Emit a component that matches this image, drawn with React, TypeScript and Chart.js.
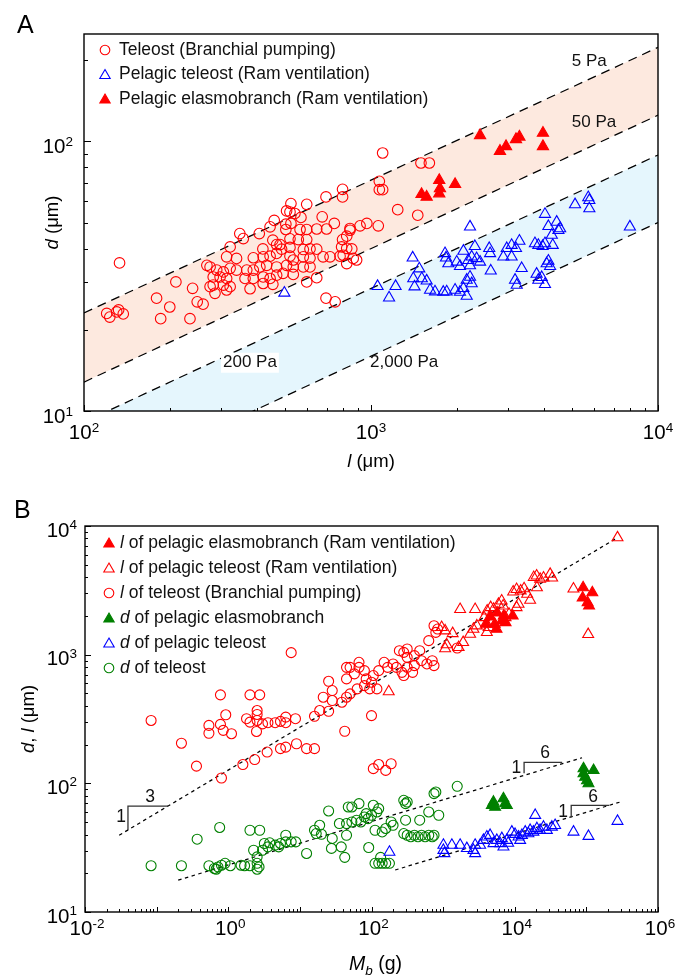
import React, { useEffect, useRef } from 'react';
import { Chart, registerables } from 'chart.js';
Chart.register(...registerables);

const FONT = '"Liberation Sans", Arial, Helvetica, sans-serif';
const RED = '#ff0000';
const BLUE = '#0000ff';
const GREEN = '#008000';
const PINK = 'rgb(253,233,223)';
const SKY = 'rgb(229,246,253)';

// ---------------- Panel A data: [l (um), d (um)] ----------------
const teleostA: [number, number][] = [
  [133, 35.4], [1098, 90.5], [1069, 71.1], [1069, 66.2], [1098, 66.2], [796, 66.4], [796, 62.2], [697, 62.2], [597, 58.4], [526, 58.8],
  [508, 55.2], [522, 54.7], [543, 54.0], [570, 52.2], [676, 52.5], [745, 49.6], [460, 50.9], [445, 48.2], [505, 49.3], [526, 49.6],
  [505, 47.1], [566, 47.1], [597, 47.1], [647, 47.3], [700, 47.3], [845, 47.5], [916, 48.6], [967, 49.6], [1060, 48.6], [349, 45.5],
  [359, 43.6], [408, 45.5], [323, 40.6], [420, 39.9], [455, 43.0], [469, 41.4], [482, 41.4], [522, 43.5], [558, 43.2], [597, 43.2],
  [488, 39.8], [522, 40.4], [581, 39.7], [613, 39.9], [647, 39.8], [796, 43.2], [823, 44.5], [845, 46.8], [790, 40.6], [823, 40.1],
  [857, 39.9], [800, 37.8], [681, 37.3], [720, 37.3], [780, 37.5], [867, 36.8], [891, 36.3], [823, 35.2], [314, 37.3], [340, 36.8],
  [389, 37.0], [421, 37.3], [445, 37.5], [469, 38.4], [522, 37.5], [536, 36.3], [581, 37.3], [613, 36.9], [268, 34.7], [275, 34.2],
  [290, 33.3], [306, 32.8], [323, 33.8], [340, 33.3], [369, 33.3], [389, 33.3], [410, 34.2], [433, 34.7], [469, 34.2], [508, 34.7],
  [536, 34.2], [581, 34.2], [613, 34.2], [282, 31.4], [298, 31.4], [314, 31.0], [282, 29.3], [306, 29.3], [323, 28.9], [275, 28.9],
  [364, 31.0], [389, 31.0], [421, 31.4], [445, 31.0], [469, 31.9], [494, 32.4], [536, 32.1], [421, 29.7], [455, 29.5], [379, 28.4],
  [597, 30.1], [647, 31.2], [286, 27.3], [314, 28.1], [239, 28.5], [209, 30.1], [179, 26.2], [199, 24.3], [248, 25.4], [260, 24.9],
  [697, 26.2], [750, 25.4], [120, 23.0], [123, 22.3], [130, 23.3], [137, 22.9], [132, 23.7], [185, 22.0], [234, 22.0], [1493, 83.1],
  [1597, 83.1], [1239, 55.8], [1455, 53.2],
];

const pelagicTeleostA: [number, number][] = [
  [499, 27.4], [1054, 29.0], [1156, 26.3], [1218, 29.0], [1397, 37.0], [1473, 33.7], [1404, 31.0], [1503, 31.0], [1563, 30.4], [1418, 28.9],
  [1606, 28.1], [1671, 27.7], [1786, 27.6], [1835, 27.7], [1963, 28.1], [2042, 27.6], [2099, 28.5], [2155, 26.7], [2155, 30.6], [2213, 31.4],
  [2243, 29.7], [1811, 38.4], [1825, 37.0], [1860, 35.2], [1989, 35.7], [2042, 34.4], [2099, 39.2], [2183, 36.2], [2213, 34.6], [2243, 37.3],
  [2301, 40.8], [2333, 36.8], [2399, 35.7], [2582, 40.1], [2600, 38.4], [2614, 33.1], [2891, 37.3], [2972, 40.1], [3090, 41.2], [3090, 37.3],
  [3200, 40.1], [3289, 42.7], [3350, 33.8], [3176, 30.6], [3220, 29.3], [3726, 41.8], [3828, 41.2], [3963, 40.8], [4038, 41.8], [4298, 41.2],
  [3776, 32.2], [3828, 30.6], [3934, 31.3], [4038, 29.5], [4093, 35.2], [4150, 36.0], [4207, 34.4], [4038, 53.7], [4150, 48.4], [4266, 44.9],
  [4436, 50.2], [4498, 46.8], [4560, 47.5], [5140, 58.3], [5715, 61.9], [5765, 60.4], [5765, 56.3], [7980, 48.2], [2213, 48.2],
];

const elasmoA: [number, number][] = [
  [2399, 105.2], [2814, 92.0], [2954, 95.8], [3289, 103.9], [3200, 101.7], [3973, 107.3], [3973, 95.8],
  [1500, 63.6], [1563, 62.2], [1729, 71.7], [1739, 66.8], [1729, 64.0], [1963, 69.3],
];

// iso-stress guide lines: d at l = 100 and l = 10^4
const guideL = [100, 10000];
const pa5 = [23.1, 223];
const pa50 = [12.8, 125];
const pa200 = [9.1, 89];
const pa2000 = [5.1, 50];

// ---------------- Panel B data: [M_b (g), value (um)] ----------------
const lTeleostB: [number, number][] = [
  [0.0837, 308], [0.222, 205], [0.36, 136], [0.804, 110], [0.537, 282], [0.537, 245], [0.778, 287], [0.851, 258], [1.11, 243], [0.778, 487],
  [0.923, 341], [2.01, 487], [2.75, 487], [1.8, 318], [2.01, 299], [2.53, 308], [2.53, 343], [2.53, 368], [2.48, 253], [3.01, 290],
  [3.58, 296], [4.51, 296], [5.36, 303], [6.35, 327], [6.35, 296], [8.68, 318], [1.6, 140], [2.34, 153], [3.49, 175], [5.36, 186],
  [6.35, 191], [8.97, 203], [12.4, 186], [16.0, 186], [7.56, 1037], [16.0, 332], [18.9, 368], [25.2, 363], [21.2, 467], [28.3, 440],
  [25.2, 621], [28.3, 526], [38.6, 427], [42.3, 254], [44.8, 648], [44.8, 797], [50.2, 797], [57.7, 709], [66.9, 797], [66.9, 872],
  [79.6, 752], [44.8, 467], [50.2, 496], [63.1, 542], [79.6, 575], [94.4, 542], [100, 610], [119, 542], [84.3, 648], [106, 688],
  [126, 752], [150, 872], [168, 797], [200, 847], [100, 336], [106, 130], [126, 140], [158, 126], [188, 142], [245, 1074],
  [282, 1042], [315, 1107], [315, 953], [397, 983], [471, 1074], [223, 797], [266, 729], [315, 797], [397, 822], [499, 898],
  [594, 847], [705, 898], [746, 822], [282, 688], [375, 729], [630, 1285], [746, 1678], [838, 1581], [791, 1489], [1574, 1127],
];

const lPelagicTeleostB: [number, number][] = [
  [174, 517], [953, 1629], [1067, 1535], [1358, 1462], [1067, 1114], [1119, 1196], [1646, 1140], [1903, 1245], [1727, 2252], [2798, 2252],
  [2383, 1446], [2649, 1582], [2958, 1678], [3738, 1946], [4119, 2193], [4606, 2328], [5075, 2261], [4076, 1489], [4321, 1629], [5922, 2472],
  [6566, 2622], [6887, 2398], [7445, 1946], [8318, 2068], [10600, 2328], [11300, 2472], [9500, 3077], [10600, 3220], [12100, 3133], [13500, 3265],
  [14900, 2956], [16400, 2655], [18400, 3990], [20200, 4096], [22600, 3863], [25200, 3953], [31200, 4224], [33300, 3953], [20400, 3325], [66000, 3249],
  [106000, 1437], [272000, 8118],
];

const lElasmoB: [number, number][] = [
  [3947, 1730], [4529, 1971], [5260, 1730], [5570, 1581], [6624, 1835], [7021, 2005], [7447, 1780], [9352, 2005], [5680, 2117],
  [90000, 3325], [121000, 3040], [88700, 2766], [104000, 2543], [109000, 2398],
];

const dElasmoB: [number, number][] = [
  [4786, 67.5], [5044, 71.6], [5321, 65.5], [6950, 76.1], [7345, 69.6], [7762, 67.5],
  [91200, 130], [126000, 126], [96200, 112], [102000, 105], [107000, 99.5], [91200, 119],
];

const dPelagicTeleostB: [number, number][] = [
  [178, 29.2], [1009, 33.1], [1009, 30.2], [1042, 28.5], [1324, 33.1], [1728, 33.1], [2143, 31.2], [2650, 30.2], [2799, 33.1], [2799, 28.5],
  [3655, 36.1], [4076, 38.4], [4529, 39.5], [5044, 34.1], [5623, 36.1], [6253, 34.1], [6600, 37.3], [6953, 32.1], [7762, 36.1], [9106, 41.9],
  [10100, 40.2], [11300, 38.4], [12600, 39.5], [14000, 41.9], [15500, 40.7], [16400, 43.2], [18200, 41.9], [20400, 44.6], [22600, 43.2], [25200, 45.8],
  [28100, 43.2], [33000, 45.8], [36600, 47.2], [19300, 56.5], [66100, 41.9], [107000, 38.8], [272000, 50.8], [3288, 33.1], [8090, 34.3], [11900, 36.1],
];

const dTeleostB: [number, number][] = [
  [0.0837, 22.9], [0.222, 22.9], [0.368, 36.8], [0.759, 45.4], [0.537, 22.9], [0.64, 21.8], [0.718, 22.4], [0.804, 23.1], [0.902, 23.9], [1.07, 22.9],
  [0.678, 21.5], [1.51, 23.1], [1.69, 22.9], [2.01, 22.9], [2.53, 23.9], [2.69, 22.4], [2.53, 21.5], [2.01, 43.2], [2.75, 43.2], [2.26, 30.2],
  [2.53, 26.8], [3.01, 30.2], [3.19, 34.1], [3.58, 32.1], [3.79, 34.5], [4.51, 33.1], [5.06, 32.1], [5.36, 34.1], [6.35, 39.5], [6.35, 35.1],
  [7.56, 35.1], [8.77, 35.1], [12.4, 28.5], [16.0, 43.2], [16.9, 40.7], [18.9, 47.2], [20.0, 40.2], [25.2, 61.0], [27.6, 31.2], [28.3, 37.3],
  [35.6, 48.7], [37.8, 32.1], [42.3, 26.6], [44.8, 39.5], [47.4, 65.5], [53.2, 65.5], [44.8, 48.7], [53.2, 50.1], [61.8, 51.7], [66.9, 69.6],
  [70.9, 50.1], [79.6, 54.8], [84.3, 58.2], [89.4, 53.2], [91.4, 31.7], [100, 56.5], [106, 67.5], [112, 43.2], [119, 59.9], [126, 63.6],
  [141, 41.9], [158, 44.6], [112, 23.9], [126, 23.9], [141, 23.9], [158, 23.9], [178, 23.9], [134, 26.6], [188, 50.1], [200, 47.2],
  [282, 73.8], [299, 69.6], [315, 71.6], [299, 51.7], [471, 51.7], [630, 59.9], [869, 56.5], [282, 40.7], [315, 39.5], [354, 38.4],
  [397, 39.5], [446, 38.4], [499, 39.5], [561, 38.4], [630, 39.5], [705, 38.4], [746, 39.5], [746, 83.2], [791, 85.6], [1574, 94.8],
];

// scaling guide lines (two end points each)
const fitL_M = [0.03, 270000];
const fitL_v = [39.5, 8100];
const fitDt_M = [0.2, 87000];
const fitDt_v = [17.7, 158];
const fitDp_M = [214, 290000];
const fitDp_v = [21.2, 71.3];

// slope triangles
const tri1_M = [0.0398, 0.0398, 0.144];
const tri1_v = [43.3, 66.4, 66.4];
const tri2_M = [13500, 13500, 45900];
const tri2_v = [119.7, 145.5, 145.5];
const tri3_M = [61400, 61400, 208000];
const tri3_v = [54.5, 67.5, 67.5];
const slopeLabels = [
  { t: '3', M: 0.081, v: 77.8 }, { t: '1', M: 0.0319, v: 54.4 },
  { t: '6', M: 26600, v: 171 }, { t: '1', M: 10500, v: 130.6 },
  { t: '6', M: 124000, v: 77.8 }, { t: '1', M: 47400, v: 59.6 },
];

const paLabels = [
  { t: '5 Pa', l: 5010, d: 198, bg: false },
  { t: '50 Pa', l: 5010, d: 117.6, bg: false },
  { t: '200 Pa', l: 305, d: 15.1, bg: true },
  { t: '2,000 Pa', l: 993, d: 15.1, bg: false },
];

// ---------------- helpers ----------------
const pts = (arr: [number, number][]) => arr.map(([x, y]) => ({ x, y }));
const pairs = (xs: number[], ys: number[]) => xs.map((x, i) => ({ x, y: ys[i] }));

type Part = { t: string; size: number; italic?: boolean; dy?: number };
const fontOf = (p: Part) => `${p.italic ? 'italic ' : ''}${p.size}px ${FONT}`;

function drawRich(ctx: CanvasRenderingContext2D, parts: Part[], x: number, y: number, align: string) {
  const widths = parts.map((p) => { ctx.font = fontOf(p); return ctx.measureText(p.t).width; });
  const total = widths.reduce((s, w) => s + w, 0);
  let cx = align === 'center' ? x - total / 2 : align === 'right' ? x - total : x;
  ctx.textAlign = 'left';
  parts.forEach((p, i) => {
    ctx.font = fontOf(p);
    ctx.fillText(p.t, cx, y + (p.dy || 0));
    cx += widths[i];
  });
}

function pow10(ctx: CanvasRenderingContext2D, exp: string, x: number, y: number, align: string) {
  ctx.textBaseline = 'alphabetic';
  drawRich(ctx, [{ t: '10', size: 20.5 }, { t: exp, size: 13.5, dy: -7.5 }], x, y, align);
}

function logTicks(ctx: CanvasRenderingContext2D, scale: any, area: any, axis: string, lo: number, hi: number, major: number, minor: number) {
  for (let e = lo; e <= hi; e++) {
    for (let m = 1; m <= 9; m++) {
      const v = m * Math.pow(10, e);
      if (v < scale.min * 0.999 || v > scale.max * 1.001) continue;
      const p = Math.round(scale.getPixelForValue(v)) + 0.5;
      const len = m === 1 ? major : minor;
      ctx.beginPath();
      if (axis === 'x') { ctx.moveTo(p, area.bottom); ctx.lineTo(p, area.bottom - len); }
      else { ctx.moveTo(area.left, p); ctx.lineTo(area.left + len, p); }
      ctx.stroke();
    }
  }
}

function marker(ctx: CanvasRenderingContext2D, shape: string, filled: boolean, color: string, x: number, y: number, r: number) {
  ctx.beginPath();
  if (shape === 'circle') ctx.arc(x, y, r, 0, Math.PI * 2);
  else {
    ctx.moveTo(x, y - r);
    ctx.lineTo(x + 0.866 * r, y + 0.5 * r);
    ctx.lineTo(x - 0.866 * r, y + 0.5 * r);
    ctx.closePath();
  }
  ctx.lineWidth = 1.1;
  if (filled) { ctx.fillStyle = color; ctx.fill(); }
  ctx.strokeStyle = color;
  ctx.stroke();
}

function frame(ctx: CanvasRenderingContext2D, a: any) {
  ctx.strokeStyle = '#000';
  ctx.lineWidth = 1.4;
  ctx.strokeRect(a.left, a.top, a.right - a.left, a.bottom - a.top);
}

// ---------------- plugins ----------------
const legendA = [
  { shape: 'circle', filled: false, color: RED, text: 'Teleost (Branchial pumping)' },
  { shape: 'triangle', filled: false, color: BLUE, text: 'Pelagic teleost (Ram ventilation)' },
  { shape: 'triangle', filled: true, color: RED, text: 'Pelagic elasmobranch (Ram ventilation)' },
];

const panelAPlugin = {
  id: 'panelADeco',
  afterDraw(chart: any) {
    const { ctx, chartArea: a, scales } = chart;
    const xs = scales.x, ys = scales.y;
    ctx.save();
    ctx.fillStyle = '#111';
    ctx.textBaseline = 'middle';
    paLabels.forEach((p) => {
      const x = xs.getPixelForValue(p.l), y = ys.getPixelForValue(p.d);
      ctx.font = `17px ${FONT}`;
      if (p.bg) {
        const w = ctx.measureText(p.t).width;
        ctx.fillStyle = '#fff';
        ctx.fillRect(x - 2, y - 10, w + 4, 20);
        ctx.fillStyle = '#111';
      }
      ctx.textAlign = 'left';
      ctx.fillText(p.t, x, y);
    });
    frame(ctx, a);
    ctx.lineWidth = 1;
    logTicks(ctx, xs, a, 'x', 2, 4, 6, 3);
    logTicks(ctx, ys, a, 'y', 1, 2, 7, 4);
    ctx.fillStyle = '#000';
    [[100, '2'], [1000, '3'], [10000, '4']].forEach(([v, e]: any) => pow10(ctx, e, xs.getPixelForValue(v), a.bottom + 28, 'center'));
    [[10, '1'], [100, '2']].forEach(([v, e]: any) => pow10(ctx, e, a.left - 11, ys.getPixelForValue(v) + 12, 'right'));
    ctx.textBaseline = 'alphabetic';
    drawRich(ctx, [{ t: 'l', size: 18.5, italic: true }, { t: ' (μm)', size: 18.5 }], (a.left + a.right) / 2, a.bottom + 56, 'center');
    ctx.save();
    ctx.translate(58, (a.top + a.bottom) / 2);
    ctx.rotate(-Math.PI / 2);
    drawRich(ctx, [{ t: 'd', size: 18.5, italic: true }, { t: ' (μm)', size: 18.5 }], 0, 0, 'center');
    ctx.restore();
    ctx.font = `25px ${FONT}`;
    ctx.textAlign = 'left';
    ctx.fillText('A', 17, 33);
    ctx.textBaseline = 'middle';
    legendA.forEach((it, i) => {
      const y = 50 + i * 24.5;
      marker(ctx, it.shape, it.filled, it.color, 105, it.shape === 'circle' ? y : y + 1, it.shape === 'circle' ? 4.8 : 6);
      ctx.fillStyle = '#111';
      ctx.font = `17.5px ${FONT}`;
      ctx.textAlign = 'left';
      ctx.fillText(it.text, 119, y);
    });
    ctx.restore();
  },
};

const legendB = [
  { shape: 'triangle', filled: true, color: RED, it: 'l', rest: ' of pelagic elasmobranch (Ram ventilation)' },
  { shape: 'triangle', filled: false, color: RED, it: 'l', rest: ' of pelagic teleost (Ram ventilation)' },
  { shape: 'circle', filled: false, color: RED, it: 'l', rest: ' of teleost (Branchial pumping)' },
  { shape: 'triangle', filled: true, color: GREEN, it: 'd', rest: ' of pelagic elasmobranch' },
  { shape: 'triangle', filled: false, color: BLUE, it: 'd', rest: ' of pelagic teleost' },
  { shape: 'circle', filled: false, color: GREEN, it: 'd', rest: ' of teleost' },
];

const panelBPlugin = {
  id: 'panelBDeco',
  afterDraw(chart: any) {
    const { ctx, chartArea: a, scales } = chart;
    const xs = scales.x, ys = scales.y;
    ctx.save();
    ctx.strokeStyle = '#333';
    ctx.lineWidth = 1.3;
    [[tri1_M, tri1_v], [tri2_M, tri2_v], [tri3_M, tri3_v]].forEach(([ms, vs]) => {
      ctx.beginPath();
      ms.forEach((m, i) => {
        const x = xs.getPixelForValue(m), y = ys.getPixelForValue(vs[i]);
        if (i === 0) ctx.moveTo(x, y); else ctx.lineTo(x, y);
      });
      ctx.stroke();
    });
    ctx.fillStyle = '#111';
    ctx.textAlign = 'center';
    ctx.textBaseline = 'middle';
    ctx.font = `17.5px ${FONT}`;
    slopeLabels.forEach((s) => ctx.fillText(s.t, xs.getPixelForValue(s.M), ys.getPixelForValue(s.v)));
    frame(ctx, a);
    ctx.lineWidth = 1;
    logTicks(ctx, xs, a, 'x', -2, 6, 5, 3);
    logTicks(ctx, ys, a, 'y', 1, 4, 6, 3);
    ctx.fillStyle = '#000';
    [[0.01, '-2'], [1, '0'], [100, '2'], [10000, '4'], [1000000, '6']].forEach(([v, e]: any) => pow10(ctx, e, xs.getPixelForValue(v) + 2, a.bottom + 23, 'center'));
    [[10, '1'], [100, '2'], [1000, '3'], [10000, '4']].forEach(([v, e]: any) => pow10(ctx, e, a.left - 8, ys.getPixelForValue(v) + 10.5, 'right'));
    ctx.textBaseline = 'alphabetic';
    drawRich(ctx, [{ t: 'M', size: 19.5, italic: true }, { t: 'b', size: 13.5, italic: true, dy: 5 }, { t: ' (g)', size: 19.5 }], (a.left + a.right) / 2 + 4, a.bottom + 58, 'center');
    ctx.save();
    ctx.translate(34, (a.top + a.bottom) / 2);
    ctx.rotate(-Math.PI / 2);
    drawRich(ctx, [{ t: 'd', size: 18.5, italic: true }, { t: ', ', size: 18.5 }, { t: 'l', size: 18.5, italic: true }, { t: ' (μm)', size: 18.5 }], 0, 0, 'center');
    ctx.restore();
    ctx.font = `25px ${FONT}`;
    ctx.textAlign = 'left';
    ctx.fillText('B', 14, 29);
    ctx.textBaseline = 'middle';
    legendB.forEach((it, i) => {
      const y = 54 + i * 25;
      marker(ctx, it.shape, it.filled, it.color, 109, it.shape === 'circle' ? y : y + 1, it.shape === 'circle' ? 4.8 : 6);
      ctx.fillStyle = '#111';
      drawRich(ctx, [{ t: it.it, size: 17.5, italic: true }, { t: it.rest, size: 17.5 }], 120, y, 'left');
    });
    ctx.restore();
  },
};

const scatterDs = (data: [number, number][], shape: string, color: string, filled: boolean, r: number) => ({
  type: 'scatter',
  data: pts(data),
  pointStyle: shape,
  pointRadius: r,
  pointHoverRadius: r,
  borderColor: color,
  backgroundColor: filled ? color : 'rgba(0,0,0,0)',
  pointBorderWidth: 1.1,
  borderWidth: 1.1,
  order: 1,
});

const guideDs = (data: any[], dash: number[], fill: any, bg: string) => ({
  type: 'line',
  data,
  borderColor: '#000',
  borderWidth: 1.25,
  borderDash: dash,
  pointRadius: 0,
  tension: 0,
  fill,
  backgroundColor: bg,
  order: 10,
});

const baseOptions = (xMin: number, xMax: number, yMin: number, yMax: number, padding: any) => ({
  responsive: false,
  animation: false,
  events: [],
  layout: { padding },
  plugins: { legend: { display: false }, tooltip: { enabled: false }, filler: { drawTime: 'beforeDatasetsDraw' } },
  scales: {
    x: { type: 'logarithmic', min: xMin, max: xMax, display: false },
    y: { type: 'logarithmic', min: yMin, max: yMax, display: false },
  },
});

export default function App() {
  const refA = useRef<HTMLCanvasElement>(null);
  const refB = useRef<HTMLCanvasElement>(null);

  useEffect(() => {
    const chartA = new Chart(refA.current as any, {
      type: 'scatter',
      data: {
        datasets: [
          scatterDs(elasmoA, 'triangle', RED, true, 6.5),
          scatterDs(pelagicTeleostA, 'triangle', BLUE, false, 6.4),
          scatterDs(teleostA, 'circle', RED, false, 5.3),
          guideDs(pairs(guideL, pa5), [9, 6], '+1', PINK),
          guideDs(pairs(guideL, pa50), [9, 6], false, 'rgba(0,0,0,0)'),
          guideDs(pairs(guideL, pa200), [9, 6], '+1', SKY),
          guideDs(pairs(guideL, pa2000), [9, 6], false, 'rgba(0,0,0,0)'),
        ] as any,
      },
      options: baseOptions(100, 10000, 10, 250, { left: 84, top: 34, right: 17, bottom: 78 }) as any,
      plugins: [panelAPlugin],
    });

    const chartB = new Chart(refB.current as any, {
      type: 'scatter',
      data: {
        datasets: [
          scatterDs(lElasmoB, 'triangle', RED, true, 6.3),
          scatterDs(lPelagicTeleostB, 'triangle', RED, false, 6.3),
          scatterDs(lTeleostB, 'circle', RED, false, 5),
          scatterDs(dElasmoB, 'triangle', GREEN, true, 6.3),
          scatterDs(dPelagicTeleostB, 'triangle', BLUE, false, 6.3),
          scatterDs(dTeleostB, 'circle', GREEN, false, 5),
          guideDs(pairs(fitL_M, fitL_v), [3.5, 3.5], false, 'rgba(0,0,0,0)'),
          guideDs(pairs(fitDt_M, fitDt_v), [3.5, 3.5], false, 'rgba(0,0,0,0)'),
          guideDs(pairs(fitDp_M, fitDp_v), [3.5, 3.5], false, 'rgba(0,0,0,0)'),
        ] as any,
      },
      options: baseOptions(0.01, 1000000, 10, 10000, { left: 85, top: 37, right: 17, bottom: 66 }) as any,
      plugins: [panelBPlugin],
    });

    return () => {
      chartA.destroy();
      chartB.destroy();
    };
  }, []);

  return (
    <div style={{ position: 'absolute', left: 0, top: 0, width: 675, height: 978, background: '#fff' }}>
      <canvas ref={refA} width={675} height={489} style={{ display: 'block', width: 675, height: 489 }} />
      <canvas ref={refB} width={675} height={489} style={{ display: 'block', width: 675, height: 489 }} />
    </div>
  );
}
